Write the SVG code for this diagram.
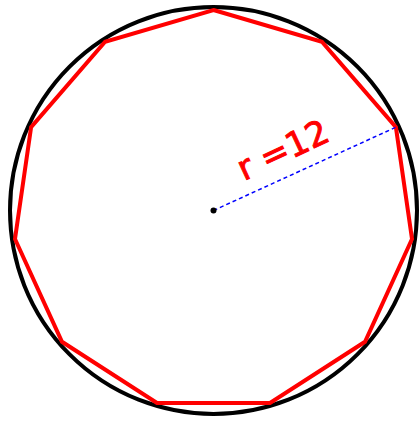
<svg xmlns="http://www.w3.org/2000/svg" width="420" height="423" viewBox="0 0 420 423">
<style>
.circ{fill:none;stroke:#000;stroke-width:4}
.poly{fill:none;stroke:#ff0000;stroke-width:4;stroke-linejoin:miter}
.rad{stroke:#0000ff;stroke-width:1.5;stroke-dasharray:4 3;fill:none}
.lbl{font-family:"DejaVu Sans","Liberation Sans",sans-serif;font-size:34px;fill:#ff0000;stroke:#ff0000;stroke-width:1}
</style>
<rect width="420" height="423" fill="#fff"/>
<g id="circle">
<circle class="circ" cx="213.5" cy="210.5" r="203.5"/>
</g>
<g id="hendecagon">
<polygon class="poly" points="213.5,10 321.9,41.8 395.9,127.2 412,239 365,341.8 270,402.9 157,402.9 62,341.8 15,239 31.1,127.2 105.1,41.8"/>
</g>
<g id="connectors">
<line class="rad" x1="213.5" y1="210.5" x2="395.9" y2="127.2"/>
</g>
<g id="center">
<circle cx="213.5" cy="210.5" r="3" fill="#000"/>
</g>
<g id="label">
<text class="lbl" transform="translate(244,181) rotate(-25)">r =12</text>
</g>
</svg>
